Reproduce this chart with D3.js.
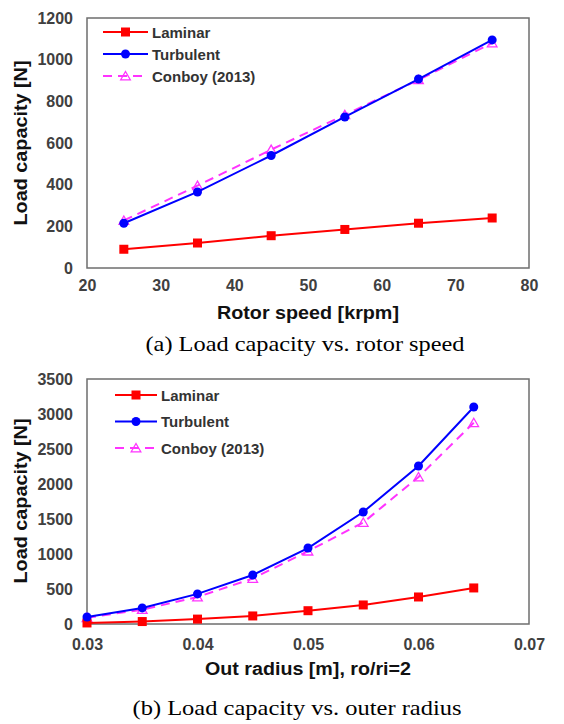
<!DOCTYPE html>
<html><head><meta charset="utf-8">
<script src="https://cdn.jsdelivr.net/npm/d3@7"></script>
<style>body{margin:0;background:#fff;} svg{display:block;}</style>
</head><body>
<svg id="c" width="564" height="724"></svg>
<script>
// Chart (a)
const speedX = [25, 35, 45, 55, 65, 75];
const speedLaminar = [90, 120, 155, 185, 215, 240];
const speedTurbulent = [215, 365, 540, 725, 907, 1095];
const speedConboy = [228, 395, 568, 735, 903, 1080];
const speedXTicks = [20, 30, 40, 50, 60, 70, 80];
const speedYTicks = [0, 200, 400, 600, 800, 1000, 1200];
// Chart (b)
const radiusX = [0.03, 0.035, 0.04, 0.045, 0.05, 0.055, 0.06, 0.065];
const radiusLaminar = [15, 35, 70, 115, 190, 272, 386, 515];
const radiusTurbulent = [100, 230, 430, 700, 1085, 1600, 2257, 3100];
const radiusConboy = [90, 205, 385, 650, 1040, 1450, 2100, 2875];
const radiusXTicks = [0.03, 0.04, 0.05, 0.06, 0.07];
const radiusYTicks = [0, 500, 1000, 1500, 2000, 2500, 3000, 3500];
const seriesNames = ["Laminar", "Turbulent", "Conboy (2013)"];

const svg = d3.select("#c");
const colors = {Laminar: "#ff0000", Turbulent: "#0000ff", Conboy: "#ff33ff"};
const font = "Arial, 'Liberation Sans', sans-serif";

function drawChart(cfg) {
  const g = svg.append("g");
  const x = d3.scaleLinear().domain(cfg.xDomain).range([cfg.left, cfg.right]);
  const y = d3.scaleLinear().domain(cfg.yDomain).range([cfg.bottom, cfg.top]);

  g.append("rect").attr("x", cfg.left).attr("y", cfg.top)
    .attr("width", cfg.right - cfg.left).attr("height", cfg.bottom - cfg.top)
    .attr("fill", "none").attr("stroke", "#6e6e6e").attr("stroke-width", 1.5);

  const xa = g.append("g").attr("transform", `translate(0,${cfg.bottom})`)
    .call(d3.axisBottom(x).tickValues(cfg.xTicks).tickSize(0).tickPadding(cfg.xPad).tickFormat(cfg.xFmt));
  xa.select(".domain").remove();
  xa.selectAll("text").attr("font-family", font).attr("font-weight", "bold")
    .attr("font-size", 16).attr("fill", "#404040");
  const ya = g.append("g").attr("transform", `translate(${cfg.left},0)`)
    .call(d3.axisLeft(y).tickValues(cfg.yTicks).tickSize(0).tickPadding(14).tickFormat(d3.format("d")));
  ya.select(".domain").remove();
  ya.selectAll("text").attr("font-family", font).attr("font-weight", "bold")
    .attr("font-size", 16).attr("fill", "#404040");

  g.append("text").attr("x", (cfg.left + cfg.right) / 2).attr("y", cfg.xTitleY)
    .attr("text-anchor", "middle").attr("font-family", font).attr("font-weight", "bold")
    .attr("font-size", 18).attr("fill", "#111")
    .attr("textLength", cfg.xTitleLen).attr("lengthAdjust", "spacingAndGlyphs").text(cfg.xTitle);
  g.append("text").attr("transform", `translate(${cfg.yTitleX},${cfg.yTitleCY}) rotate(-90)`)
    .attr("text-anchor", "middle").attr("font-family", font).attr("font-weight", "bold")
    .attr("font-size", 18.5).attr("fill", "#111")
    .attr("textLength", 165).attr("lengthAdjust", "spacingAndGlyphs").text("Load capacity [N]");
  g.append("text").attr("x", cfg.captionX).attr("y", cfg.captionY)
    .attr("text-anchor", "middle").attr("font-family", "'Liberation Serif', 'Times New Roman', serif")
    .attr("font-size", 22).attr("fill", "#000")
    .attr("textLength", cfg.captionLen).attr("lengthAdjust", "spacingAndGlyphs").text(cfg.caption);

  const line = d3.line().x(d => x(d[0])).y(d => y(d[1]));
  const series = [
    {key: "Laminar", vals: cfg.lam, dash: null, marker: "square"},
    {key: "Turbulent", vals: cfg.tur, dash: null, marker: "circle"},
    {key: "Conboy", vals: cfg.con, dash: "9,6", marker: "triangle"}
  ];
  function marker(sel, s, cx, cy) {
    const c = colors[s.key];
    if (s.marker === "square") {
      sel.append("rect").attr("x", cx - 4.5).attr("y", cy - 4.5).attr("width", 9).attr("height", 9).attr("fill", c);
    } else if (s.marker === "circle") {
      sel.append("circle").attr("cx", cx).attr("cy", cy).attr("r", 4.5).attr("fill", c);
    } else {
      sel.append("path").attr("d", d3.symbol().type(d3.symbolTriangle).size(40)())
        .attr("transform", `translate(${cx},${cy + 1})`).attr("fill", "none")
        .attr("stroke", c).attr("stroke-width", 1.3);
    }
  }
  [series[2], series[0], series[1]].forEach(s => {
    const pts = cfg.xs.map((v, i) => [v, s.vals[i]]);
    g.append("path").datum(pts).attr("d", line).attr("fill", "none")
      .attr("stroke", colors[s.key]).attr("stroke-width", 2)
      .attr("stroke-dasharray", s.dash);
    pts.forEach(p => marker(g, s, x(p[0]), y(p[1])));
  });

  series.forEach((s, i) => {
    const ly = cfg.legY + i * cfg.legStep;
    g.append("line").attr("x1", cfg.legX1).attr("x2", cfg.legX2).attr("y1", ly).attr("y2", ly)
      .attr("stroke", colors[s.key]).attr("stroke-width", 2).attr("stroke-dasharray", s.dash);
    marker(g, s, (cfg.legX1 + cfg.legX2) / 2, ly);
    g.append("text").attr("x", cfg.legX2 + 4).attr("y", ly + 5.5)
      .attr("font-family", font).attr("font-weight", "bold").attr("font-size", 15)
      .attr("fill", "#333").text(seriesNames[i]);
  });
}

drawChart({
  left: 87, right: 529, top: 18, bottom: 268,
  xDomain: [20, 80], yDomain: [0, 1200],
  xTicks: speedXTicks, yTicks: speedYTicks, xFmt: d3.format("d"), xPad: 12,
  xs: speedX, lam: speedLaminar, tur: speedTurbulent, con: speedConboy,
  xTitle: "Rotor speed [krpm]", xTitleY: 319, xTitleLen: 182, yTitleX: 27, yTitleCY: 143,
  caption: "(a) Load capacity vs. rotor speed", captionY: 351, captionX: 305, captionLen: 319,
  legX1: 103, legX2: 148, legY: 32, legStep: 22
});
drawChart({
  left: 87, right: 529, top: 379, bottom: 624,
  xDomain: [0.03, 0.07], yDomain: [0, 3500],
  xTicks: radiusXTicks, yTicks: radiusYTicks, xFmt: d3.format(".2f"), xPad: 15,
  xs: radiusX, lam: radiusLaminar, tur: radiusTurbulent, con: radiusConboy,
  xTitle: "Out radius [m], ro/ri=2", xTitleY: 675, xTitleLen: 206, yTitleX: 27, yTitleCY: 501,
  caption: "(b) Load capacity vs. outer radius", captionY: 715, captionX: 297, captionLen: 329,
  legX1: 115, legX2: 157, legY: 395, legStep: 26.5
});
</script>
</body></html>
